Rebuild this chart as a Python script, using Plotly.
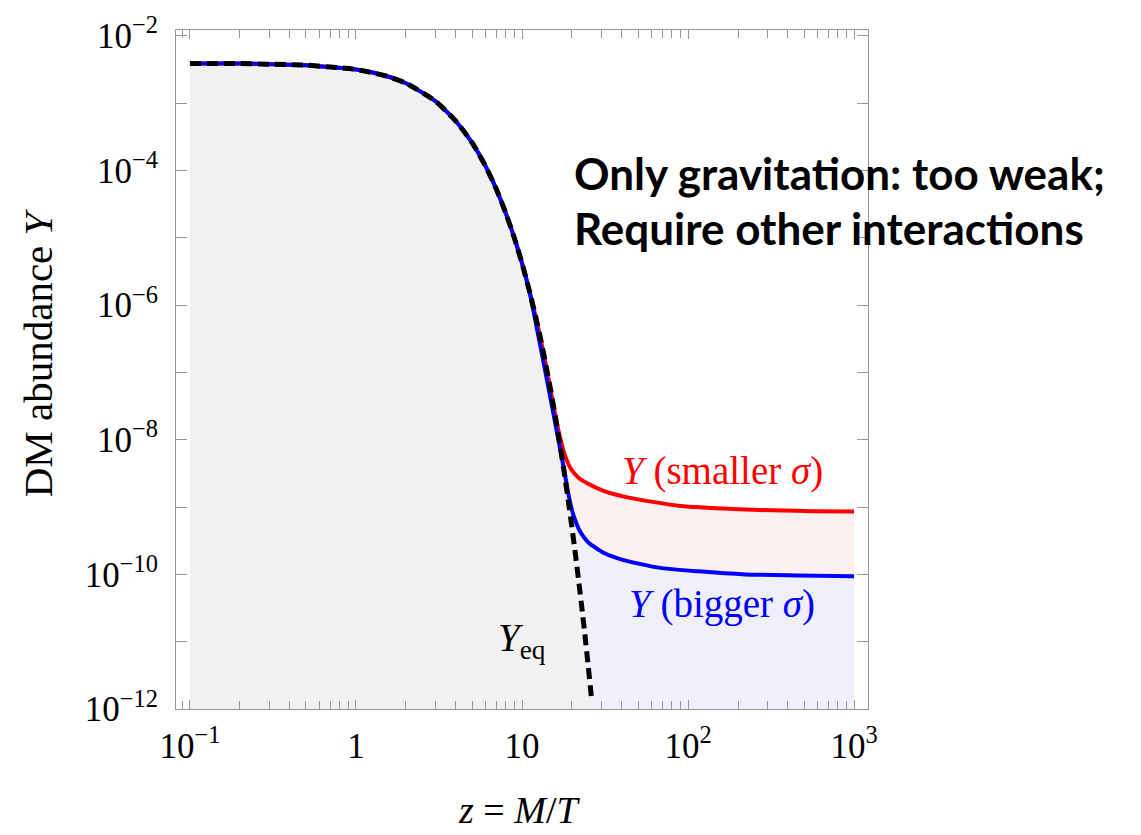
import plotly.graph_objects as go

# ---- data ----
z_eq = [0.1, 0.2, 0.3, 0.5, 0.7, 1, 1.5, 2, 3, 4, 5, 6, 7, 8, 9, 10, 11, 12, 13, 14,
        15, 16, 17, 18, 19, 20, 21, 22, 23, 24, 25, 26, 26.3]
Y_eq = [3.90e-3, 3.88e-3, 3.81e-3, 3.68e-3, 3.45e-3, 3.17e-3, 2.56e-3, 1.98e-3, 1.08e-3,
        5.4e-4, 2.6e-4, 1.19e-4, 5.3e-5, 2.3e-5, 9.9e-6, 4.2e-6, 1.75e-6, 7.3e-7, 3.0e-7,
        1.21e-7, 4.9e-8, 1.97e-8, 7.9e-9, 3.15e-9, 1.25e-9, 4.93e-10, 1.95e-10, 7.6e-11,
        3.0e-11, 1.17e-11, 4.57e-12, 1.78e-12, 1.34e-12]

# tails after departing from equilibrium
z_blue_tail = [18, 19, 20, 21, 22, 23, 25.2, 31, 40, 66.5, 115.6, 221, 461, 1000]
Y_blue_tail = [3.4e-9, 1.6e-9, 9.0e-10, 6.2e-10, 4.7e-10, 3.9e-10, 2.95e-10, 2.1e-10,
               1.66e-10, 1.26e-10, 1.11e-10, 1.0e-10, 9.65e-11, 9.35e-11]
z_red_tail = [16, 17, 18, 19, 20, 22, 25.2, 31, 44, 87.7, 221, 552, 1000]
Y_red_tail = [2.1e-8, 1.05e-8, 6.2e-9, 4.4e-9, 3.5e-9, 2.7e-9, 2.2e-9, 1.74e-9, 1.38e-9,
              1.05e-9, 9.2e-10, 8.7e-10, 8.6e-10]

blue_split = 17   # equilibrium points shared by the blue curve (up to z = 17)
red_split = 21    # equilibrium points shared by the red curve (up to z = 15)

x_major_vals = [0.1, 1, 10, 100, 1000]
x_major_text = ["10<sup>\u22121</sup>", "1", "10", "10<sup>2</sup>", "10<sup>3</sup>"]
x_minor_vals = ([0.09] + [k / 10 for k in range(2, 10)] + list(range(2, 10)) +
                list(range(20, 100, 10)) + list(range(200, 1000, 100)))
y_major_exps = [-12, -10, -8, -6, -4, -2]
y_minor_exps = [-11, -9, -7, -5, -3]

Y_MIN = 1e-12

z_blue = z_eq[:blue_split] + z_blue_tail
Y_blue = Y_eq[:blue_split] + Y_blue_tail
z_red = z_eq[:red_split] + z_red_tail
Y_red = Y_eq[:red_split] + Y_red_tail

# ---- figure ----
W, H = 1141, 835
L, R, T, B = 176, 868, 18, 709

SERIF = "Liberation Serif"
GREY_FILL = "rgb(241,241,241)"
LAV_FILL = "rgb(240,240,252)"
PINK_FILL = "rgb(253,240,240)"
FRAME = "rgb(150,150,150)"

fig = go.Figure()
spl = dict(shape="spline", smoothing=0.6)

# fills
fig.add_trace(go.Scatter(x=[z_blue[0], z_blue[-1]], y=[Y_MIN, Y_MIN], mode="lines",
                         line=dict(width=0), hoverinfo="skip", showlegend=False))
fig.add_trace(go.Scatter(x=z_blue, y=Y_blue, mode="lines", fill="tonexty",
                         fillcolor=LAV_FILL, line=dict(width=0, **spl),
                         hoverinfo="skip", showlegend=False))
fig.add_trace(go.Scatter(x=z_red, y=Y_red, mode="lines", fill="tonexty",
                         fillcolor=PINK_FILL, line=dict(width=0, **spl),
                         hoverinfo="skip", showlegend=False))
fig.add_trace(go.Scatter(x=[z_eq[0], z_eq[-1]], y=[Y_MIN, Y_MIN], mode="lines",
                         line=dict(width=0), hoverinfo="skip", showlegend=False))
fig.add_trace(go.Scatter(x=z_eq, y=Y_eq, mode="lines", fill="tonexty",
                         fillcolor=GREY_FILL, line=dict(width=0, **spl),
                         hoverinfo="skip", showlegend=False))
# lines
fig.add_trace(go.Scatter(x=z_red, y=Y_red, mode="lines",
                         line=dict(color="rgb(255,0,0)", width=4, **spl), showlegend=False))
fig.add_trace(go.Scatter(x=z_blue, y=Y_blue, mode="lines",
                         line=dict(color="rgb(0,0,255)", width=4, **spl), showlegend=False))
fig.add_trace(go.Scatter(x=z_eq, y=Y_eq, mode="lines",
                         line=dict(color="black", width=5, dash="11px,6px", **spl),
                         showlegend=False))

axis_common = dict(showline=True, linecolor=FRAME, linewidth=1, mirror="allticks",
                   ticks="inside", tickcolor=FRAME, tickwidth=1,
                   showgrid=False, zeroline=False, ticklabeloverflow="allow",
                   tickfont=dict(family=SERIF, size=35, color="black"))

fig.update_xaxes(type="log", range=[-1.084, 3.084], tickmode="array",
                 tickvals=x_major_vals, ticktext=x_major_text,
                 ticklen=9, ticklabelstandoff=6,
                 minor=dict(tickmode="array", tickvals=x_minor_vals, ticks="inside",
                            ticklen=8, tickcolor=FRAME, tickwidth=1, showgrid=False),
                 **axis_common)
fig.update_yaxes(type="log", range=[-12, -1.912], tickmode="array",
                 tickvals=[10.0 ** e for e in y_major_exps],
                 ticktext=["10<sup>\u2212%d</sup>" % -e for e in y_major_exps],
                 ticklen=11, ticklabelstandoff=10,
                 minor=dict(tickmode="array", tickvals=[10.0 ** e for e in y_minor_exps],
                            ticks="inside", ticklen=11, tickcolor=FRAME, tickwidth=1,
                            showgrid=False),
                 **axis_common)


def px_x(px):
    return (px - L) / (R - L)


def px_y(py):
    return (B - py) / (B - T)


ann = []
ann.append(dict(text="<i>Y</i> (smaller <i>\u03c3</i>)", x=px_x(722), y=px_y(467),
                font=dict(family=SERIF, size=39, color="rgb(255,0,0)")))
ann.append(dict(text="<i>Y</i> (bigger <i>\u03c3</i>)", x=px_x(722), y=px_y(602),
                font=dict(family=SERIF, size=39, color="rgb(0,0,255)")))
ann.append(dict(text="<i>Y</i><sub>eq</sub>", x=px_x(522), y=px_y(639),
                font=dict(family=SERIF, size=39, color="black")))
ann.append(dict(text="<i>z</i> = <i>M</i>/<i>T</i>", x=px_x(519), y=px_y(812),
                font=dict(family=SERIF, size=38, color="black")))
ann.append(dict(text="DM abundance <i>Y</i>", x=px_x(38), y=px_y(347), textangle=-90,
                font=dict(family=SERIF, size=41, color="black")))
ann.append(dict(text="<b>Only gravitation: too weak;</b>", x=px_x(572), y=px_y(164),
                xanchor="left", font=dict(family="Lato", size=44, color="black")))
ann.append(dict(text="<b>Require other interactions</b>", x=px_x(572), y=px_y(219),
                xanchor="left", font=dict(family="Lato", size=44, color="black")))
for a in ann:
    a.setdefault("xanchor", "center")
    a.update(xref="paper", yref="paper", yanchor="middle", showarrow=False)

fig.update_layout(width=W, height=H, margin=dict(l=L, r=W - R, t=T, b=H - B),
                  paper_bgcolor="white", plot_bgcolor="white", annotations=ann,
                  showlegend=False)

fig.write_html("out.html", config={"displayModeBar": False},
               post_script="document.body.style.margin='0';document.body.style.overflow='hidden';")
